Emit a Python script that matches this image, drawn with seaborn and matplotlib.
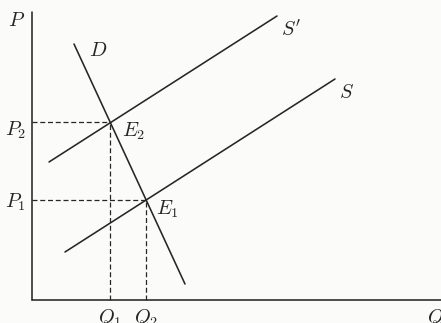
import pandas as pd
import matplotlib.pyplot as plt
import seaborn as sns

# curves: end points in (Q, P) units, origin at the axes corner
curve_names = ["S'", "S'", "S", "S", "D", "D"]
curve_q = [17, 245, 33, 303, 42, 153]
curve_p = [138, 284, 48, 221, 256, 16]

# equilibrium points
eq_names = ["E_2", "E_1"]
eq_q = [78, 114]
eq_p = [178, 100]
q_labels = ["Q_1", "Q_2"]
p_labels = ["P_2", "P_1"]

q_max = 409
p_max = 288

sns.set_style("white")
plt.rcParams["mathtext.fontset"] = "cm"
plt.rcParams["font.family"] = ["DejaVu Serif"]

ink = "#262626"
df = pd.DataFrame({"curve": curve_names, "Q": curve_q, "P": curve_p})

fig = plt.figure(figsize=(4.41, 3.23), dpi=100)
fig.patch.set_facecolor("#fbfbfa")
ax = fig.add_axes([0, 0, 1, 1])
ax.set_facecolor("#fbfbfa")

sns.lineplot(data=df, x="Q", y="P", units="curve", estimator=None,
             color=ink, lw=1.15, sort=False, ax=ax)

# axes drawn by hand
ax.plot([0, q_max], [0, 0], color=ink, lw=1.15)
ax.plot([0, 0], [0, p_max], color=ink, lw=1.15)

# dashed guides to the axes
for q, p in zip(eq_q, eq_p):
    ax.plot([0, q], [p, p], color=ink, lw=0.9, ls=(0, (4, 2.2)))
    ax.plot([q, q], [0, p], color=ink, lw=0.9, ls=(0, (4, 2.2)))

fs = 14.5
ax.text(eq_q[0] + 12, eq_p[0] + 1, f"${eq_names[0]}$", fontsize=fs, ha="left", va="top", color=ink)
ax.text(eq_q[1] + 10, eq_p[1] + 1, f"${eq_names[1]}$", fontsize=fs, ha="left", va="top", color=ink)
ax.text(-6, eq_p[0] - 8, f"${p_labels[0]}$", fontsize=fs, ha="right", va="center", color=ink)
ax.text(-6, eq_p[1] - 2, f"${p_labels[1]}$", fontsize=fs, ha="right", va="center", color=ink)
for name, q in zip(q_labels, eq_q):
    ax.text(q, -7, f"${name}$", fontsize=fs, ha="center", va="top", color=ink)

ax.text(-7, p_max - 8, "$P$", fontsize=fs, ha="right", va="center", color=ink)
ax.text(395, -7, "$Q$", fontsize=fs, ha="left", va="top", color=ink)
ax.text(259, 270, "$S'$", fontsize=fs, ha="center", va="center", color=ink)
ax.text(315, 207, "$S$", fontsize=fs, ha="center", va="center", color=ink)
ax.text(66, 250, "$D$", fontsize=fs, ha="center", va="center", color=ink)

ax.set_xlim(-32, 409)
ax.set_ylim(-23, 300)
ax.set_axis_off()

fig.savefig("out.png", dpi=100, facecolor=fig.get_facecolor())
